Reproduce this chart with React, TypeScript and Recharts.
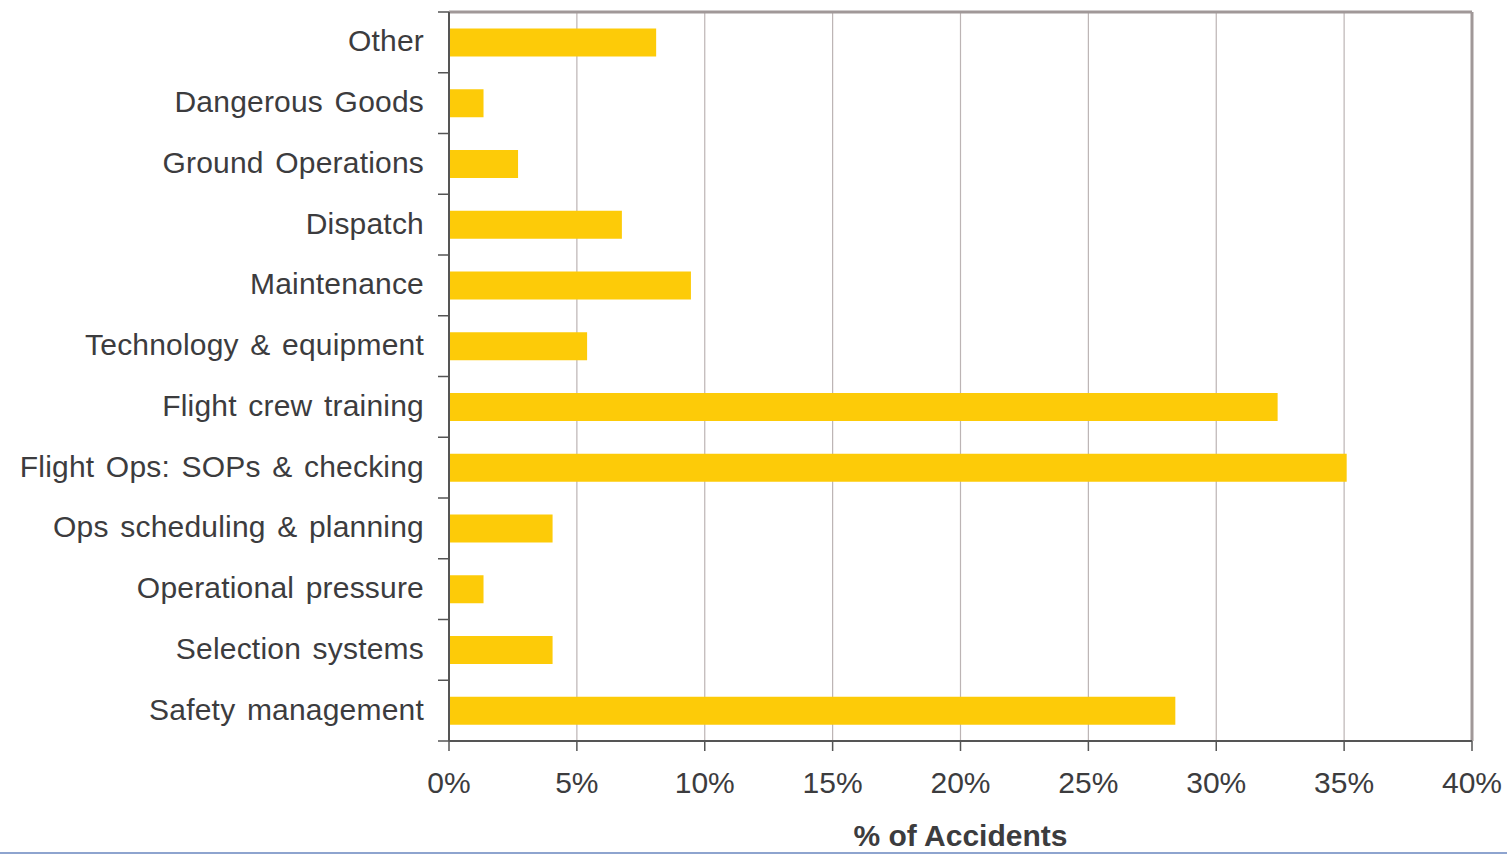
import { BarChart, Bar, XAxis, YAxis, CartesianGrid, ReferenceLine } from "recharts";

const categories = [
  "Other",
  "Dangerous Goods",
  "Ground Operations",
  "Dispatch",
  "Maintenance",
  "Technology & equipment",
  "Flight crew training",
  "Flight Ops: SOPs & checking",
  "Ops scheduling & planning",
  "Operational pressure",
  "Selection systems",
  "Safety management",
];

const accidentShare = [8.1, 1.35, 2.7, 6.76, 9.46, 5.4, 32.4, 35.1, 4.05, 1.35, 4.05, 28.4];

const xTicks = [0, 5, 10, 15, 20, 25, 30, 35, 40];

const data = categories.map((name, i) => ({ name, value: accidentShare[i] }));

const TEXT = "#3c3c3e";
const FONT = "'Liberation Sans', Arial, sans-serif";
const BAND = 729 / categories.length;

const CategoryTick = (props: any) => {
  const { x, y, payload, index } = props;
  const last = index === categories.length - 1;
  return (
    <g>
      <line x1={x - 11} x2={x} y1={y - BAND / 2} y2={y - BAND / 2} stroke="#555" strokeWidth={1.5} />
      {last && (
        <line x1={x - 11} x2={x} y1={y + BAND / 2} y2={y + BAND / 2} stroke="#555" strokeWidth={1.5} />
      )}
      <text
        x={x - 25}
        y={y}
        dy="0.3em"
        textAnchor="end"
        fill={TEXT}
        fontSize={30}
        fontFamily={FONT}
        letterSpacing={0.2}
        wordSpacing={3}
      >
        {payload.value}
      </text>
    </g>
  );
};

const App = () => {
  return (
    <div style={{ position: "absolute", left: 0, top: 0, width: 1507, height: 854, background: "#fff" }}>
      <BarChart
        width={1507}
        height={852}
        data={data}
        layout="vertical"
        margin={{ top: 12, right: 35, bottom: 0, left: 0 }}
        barCategoryGap="27%"
      >
        <CartesianGrid horizontal={false} vertical stroke="#bcb4b4" strokeWidth={1.2} />
        <CartesianGrid
          vertical={false}
          horizontal
          stroke="#a09898"
          strokeWidth={3}
          horizontalCoordinatesGenerator={({ offset }: any) => [offset.top]}
        />
        <XAxis
          type="number"
          domain={[0, 40]}
          ticks={xTicks}
          tickFormatter={(v) => `${v}%`}
          axisLine={{ stroke: "#555", strokeWidth: 2 }}
          tickLine={{ stroke: "#555", strokeWidth: 1.5 }}
          tickSize={10}
          tickMargin={21}
          height={111}
          tick={{ fill: TEXT, fontSize: 30, fontFamily: FONT }}
          label={{
            value: "% of Accidents",
            position: "insideBottom",
            offset: 6,
            fill: TEXT,
            fontSize: 30,
            fontWeight: "bold",
            fontFamily: FONT,
          }}
        />
        <YAxis
          type="category"
          dataKey="name"
          width={449}
          axisLine={{ stroke: "#555", strokeWidth: 2 }}
          tickLine={false}
          tickSize={0}
          tickMargin={0}
          tick={<CategoryTick />}
          interval={0}
        />
        <ReferenceLine x={40} stroke="#a09898" strokeWidth={3} />
        <Bar dataKey="value" fill="#fdcb08" isAnimationActive={false} />
      </BarChart>
      <div style={{ position: "absolute", left: 0, top: 852, width: 1507, height: 2, background: "#8ea4cf" }} />
    </div>
  );
};

export default App;
